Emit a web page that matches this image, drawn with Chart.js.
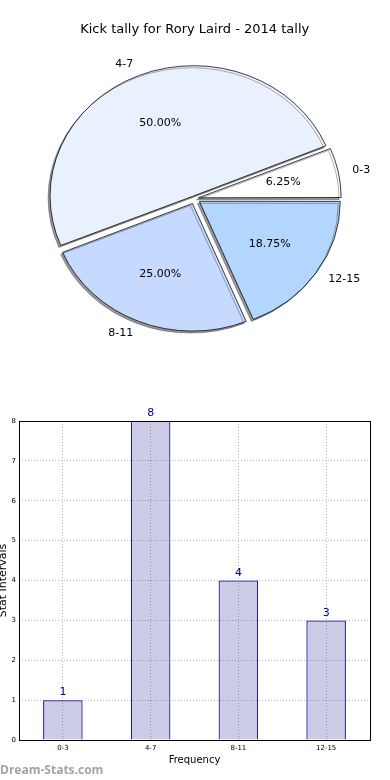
<!DOCTYPE html>
<html>
<head>
<meta charset="utf-8">
<script src="https://cdn.jsdelivr.net/npm/chart.js@4/dist/chart.umd.min.js"></script>
<style>
  body { margin: 0; width: 390px; height: 780px; background: #fff; position: relative; overflow: hidden; }
  #pieChart { position: absolute; left: 0; top: 0; }
  #barChart { position: absolute; left: 0; top: 400px; }
  .mark { position: absolute; left: 0; top: 761px; font: bold 12px 'Open Sans', sans-serif; color: #a3a3a3; }
</style>
</head>
<body>
<canvas id="pieChart" width="390" height="400"></canvas>
<canvas id="barChart" width="390" height="380"></canvas>
<div class="mark">Dream-Stats.com</div>
<script>
const titulo = 'Kick tally for Rory Laird - 2014 tally';
const categorias = ['0-3', '4-7', '8-11', '12-15'];
const valores = [1, 8, 4, 3];
const coresPizza = ['#ffffff', '#eaf1fe', '#c6d9ff', '#b3d6ff'];
const yTicks = [0, 1, 2, 3, 4, 5, 6, 7, 8];

const FONTE = 'DejaVu Sans';
// a pizza original sai um pouco achatada (elipse)
const ACHATAMENTO = 0.908;
// deslocamento real (px) de cada fatia, igual para todas
const EXPLODE = 6;

// matplotlib desenha no sentido anti-horário, o Chart.js no horário
const ordem = [0, 3, 2, 1];
const total = valores.reduce((a, b) => a + b, 0);

// O ArcElement do Chart.js desloca offset/4 * (1 + fix); compensa para ficar uniforme
function offsetPara(valor) {
    const circ = valor / total * Math.PI * 2;
    const fix = 1 - Math.sin(Math.min(Math.PI, circ));
    return EXPLODE * 4 / (1 + fix);
}

// Sombra e achatamento das fatias
const sombraPlugin = {
    id: 'sombra',
    beforeDatasetsDraw(chart) {
        const ctx = chart.ctx;
        const arc = chart.getDatasetMeta(0).data[0];
        ctx.save();
        ctx.translate(arc.x, arc.y);
        ctx.scale(1, ACHATAMENTO);
        ctx.translate(-arc.x, -arc.y);
        ctx.shadowColor = 'rgba(0, 0, 0, 0.4)';
        ctx.shadowOffsetX = -2;
        ctx.shadowOffsetY = 2;
        ctx.shadowBlur = 0;
    },
    afterDatasetsDraw(chart) {
        chart.ctx.restore();
    }
};

// Rótulos das fatias (nome fora, percentual dentro)
const rotulosPizza = {
    id: 'rotulosPizza',
    afterDraw(chart) {
        const ctx = chart.ctx;
        const meta = chart.getDatasetMeta(0);
        ctx.save();
        ctx.font = '11px "' + FONTE + '"';
        ctx.fillStyle = '#000';
        ctx.textBaseline = 'middle';
        meta.data.forEach((arc, i) => {
            const { x, y, startAngle, endAngle, outerRadius } = arc.getProps(['x', 'y', 'startAngle', 'endAngle', 'outerRadius'], true);
            const meio = (startAngle + endAngle) / 2;
            const c = Math.cos(meio), s = Math.sin(meio);
            const pos = (f) => [x + c * (EXPLODE + outerRadius * f), y + s * (EXPLODE + outerRadius * f) * ACHATAMENTO];
            const [lx, ly] = pos(1.1);
            ctx.textAlign = c > 0 ? 'left' : 'right';
            ctx.fillText(chart.data.labels[i], lx, ly);
            const [px, py] = pos(0.6);
            ctx.textAlign = 'center';
            const pct = (chart.data.datasets[0].data[i] / total * 100).toFixed(2) + '%';
            ctx.fillText(pct, px, py);
        });
        ctx.restore();
    }
};

new Chart(document.getElementById('pieChart'), {
    type: 'pie',
    data: {
        labels: ordem.map(i => categorias[i]),
        datasets: [{
            data: ordem.map(i => valores[i]),
            backgroundColor: ordem.map(i => coresPizza[i]),
            borderColor: '#000',
            borderWidth: 0.8,
            offset: ordem.map(i => offsetPara(valores[i])),
            radius: 140.5,
            rotation: 67.5
        }]
    },
    options: {
        responsive: false,
        animation: false,
        layout: { padding: { top: 0, bottom: 40.6, left: 0, right: 0.6 } },
        plugins: {
            legend: { display: false },
            tooltip: { enabled: false },
            title: {
                display: true,
                text: titulo,
                color: '#000',
                font: { family: FONTE, size: 13, weight: 'normal' },
                padding: { top: 22, bottom: 0 }
            }
        }
    },
    plugins: [sombraPlugin, rotulosPizza]
});

// Moldura em volta da área do gráfico
const moldura = {
    id: 'moldura',
    afterDraw(chart) {
        const { left, top, right, bottom } = chart.chartArea;
        const ctx = chart.ctx;
        ctx.save();
        ctx.strokeStyle = '#000';
        ctx.lineWidth = 1;
        ctx.strokeRect(Math.round(left) + 0.5, Math.round(top) + 0.5, Math.round(right - left), Math.round(bottom - top));
        ctx.restore();
    }
};

// Valores em cima das barras
const valoresBarras = {
    id: 'valoresBarras',
    afterDatasetsDraw(chart) {
        const ctx = chart.ctx;
        ctx.save();
        ctx.font = '11px "' + FONTE + '"';
        ctx.fillStyle = '#000080';
        ctx.textAlign = 'center';
        ctx.textBaseline = 'bottom';
        chart.getDatasetMeta(0).data.forEach((bar, i) => {
            ctx.fillText(String(chart.data.datasets[0].data[i]), bar.x, bar.y - 2);
        });
        ctx.restore();
    }
};

const gradeCfg = { color: '#b8b8b8', lineWidth: 1, drawTicks: false };

new Chart(document.getElementById('barChart'), {
    type: 'bar',
    data: {
        labels: categorias,
        datasets: [{
            data: valores,
            backgroundColor: 'rgba(0, 0, 128, 0.2)',
            borderColor: '#000080',
            borderWidth: 1,
            barPercentage: 0.45,
            categoryPercentage: 1
        }]
    },
    options: {
        responsive: false,
        animation: false,
        layout: { padding: { top: 21, right: 20, left: 0, bottom: 0 } },
        plugins: {
            legend: { display: false },
            tooltip: { enabled: false }
        },
        scales: {
            x: {
                grid: { ...gradeCfg, offset: false },
                border: { display: false, dash: [1, 2] },
                ticks: { color: '#000', font: { family: FONTE, size: 7 }, padding: 4, maxRotation: 0 },
                title: {
                    display: true,
                    text: 'Frequency',
                    color: '#000',
                    font: { family: FONTE, size: 10 },
                    padding: { top: 0, bottom: 14 }
                },
                afterFit(scale) { scale.height = 40; }
            },
            y: {
                min: yTicks[0],
                max: yTicks[yTicks.length - 1],
                grid: gradeCfg,
                border: { display: false, dash: [1, 2] },
                ticks: { stepSize: 1, color: '#000', font: { family: FONTE, size: 7 }, padding: 3 },
                title: {
                    display: true,
                    text: 'Stat Intervals',
                    color: '#000',
                    font: { family: FONTE, size: 11 },
                    padding: { top: -3, bottom: 0 }
                },
                afterFit(scale) { scale.width = 19; }
            }
        }
    },
    plugins: [moldura, valoresBarras]
});
</script>
</body>
</html>
